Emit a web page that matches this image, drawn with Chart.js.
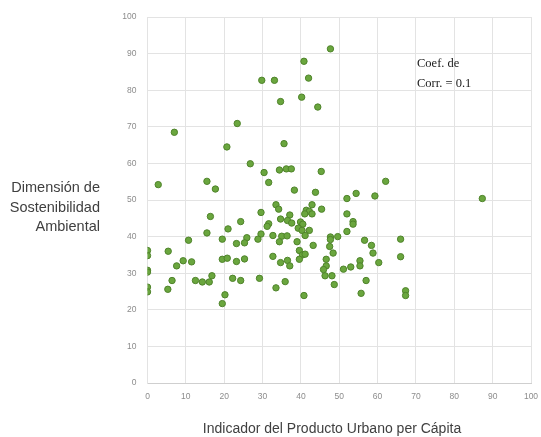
<!DOCTYPE html>
<html>
<head>
<meta charset="utf-8">
<script src="https://cdn.jsdelivr.net/npm/chart.js@4.4.1/dist/chart.umd.min.js"></script>
<style>
  html, body { margin: 0; padding: 0; background: #fff; }
  #wrap { width: 541px; height: 437px; }
</style>
</head>
<body>
<div id="wrap"><canvas id="scatter"></canvas></div>
<script>
// values
const urbanProduct = [
  47.7, 40.8, 29.8, 33.1, 42.0, 34.7, 40.2, 44.4, 23.4, 7.0, 20.7, 35.6,
  26.8, 30.4, 34.4, 36.2, 37.5, 45.3, 2.8, 15.5, 17.7, 31.6, 38.3, 43.8,
  62.1, 54.4, 52.0, 59.3, 87.3, 52.0, 53.6, 53.6, 52.0, 49.6, 56.6, 58.4,
  66.0, 48.4, 58.8, 66.0, 55.4, 55.4, 60.3, 53.0, 51.1, 48.1, 48.7, 57.0,
  55.7, 67.3, 67.3,
  33.5, 34.2, 29.6, 16.4, 41.4, 42.9, 45.4, 42.2, 41.0, 42.9, 37.1, 34.7,
  36.5, 37.6, 39.9, 40.5, 31.6, 31.2, 39.3, 40.3, 42.2, 24.3, 21.0, 15.5,
  29.6, 28.8, 32.7, 35.0, 36.4, 41.1, 34.4, 39.0, 43.2, 25.9, 25.3, 23.2,
  19.5, 10.7, 5.4, 0, 0, 9.3, 11.5, 7.6, 19.5, 20.8, 23.2, 25.3,
  32.7, 34.7, 36.5, 37.1, 39.6, 40.4, 41.1, 39.6, 47.7, 47.7, 47.5, 46.6,
  46.6, 45.9, 46.3, 0, 0, 6.4, 5.3, 0, 0, 12.5, 14.3, 16.1,
  16.8, 22.2, 24.3, 29.2, 33.5, 35.9, 40.8, 20.2, 19.5
];
const sustainability = [
  91.3, 87.9, 82.7, 82.7, 83.3, 76.9, 78.1, 75.4, 70.9, 68.5, 64.5, 65.4,
  59.9, 57.5, 58.2, 58.5, 58.5, 57.8, 54.2, 55.1, 53.0, 54.8, 52.7, 52.1,
  55.1, 51.8, 50.4, 51.1, 50.4, 46.2, 44.1, 43.4, 41.4, 40.0, 39.0, 37.6,
  39.3, 35.5, 35.5, 34.5, 33.4, 32.0, 32.9, 31.7, 31.1, 29.3, 26.9, 28.0,
  24.5, 25.2, 23.9,
  48.7, 47.5, 46.6, 45.5, 47.2, 48.7, 47.5, 46.9, 46.2, 46.2, 45.9, 44.8,
  44.4, 43.7, 44.0, 43.4, 43.5, 42.8, 42.3, 41.7, 41.7, 44.1, 42.1, 41.0,
  40.7, 39.3, 40.3, 40.1, 40.2, 40.3, 38.6, 38.6, 37.6, 39.7, 38.3, 38.1,
  39.3, 39.0, 36.0, 36.2, 34.8, 33.4, 33.1, 32.0, 33.8, 34.1, 33.2, 33.9,
  34.6, 32.9, 33.5, 32.0, 36.2, 35.0, 35.2, 33.8, 39.9, 39.2, 37.3, 33.8,
  32.0, 31.0, 29.3, 30.8, 30.3, 28.0, 25.6, 26.2, 24.9, 28.0, 27.6, 27.6,
  29.3, 28.6, 28.0, 28.6, 26.0, 27.7, 23.9, 24.1, 21.7
];
const xTicks = [0, 10, 20, 30, 40, 50, 60, 70, 80, 90, 100];
const yTicks = [0, 10, 20, 30, 40, 50, 60, 70, 80, 90, 100];
const yTitleLines = ['Dimensión de', 'Sostenibilidad', 'Ambiental'];
const xTitle = 'Indicador del Producto Urbano per Cápita';
const noteLines = ['Coef. de', 'Corr. = 0.1'];

const points = urbanProduct.map((x, i) => ({ x: x, y: sustainability[i] }));

// titles + correlation note drawn straight on the canvas
const textPlugin = {
  id: 'extraText',
  afterDraw(chart) {
    const ctx = chart.ctx;
    ctx.save();
    ctx.fillStyle = '#404040';
    ctx.font = '14.5px "Liberation Sans", Arial, sans-serif';
    ctx.textAlign = 'right';
    ctx.textBaseline = 'middle';
    yTitleLines.forEach((t, i) => ctx.fillText(t, 100, 188 + i * 19.5));

    ctx.font = '14px "Liberation Sans", Arial, sans-serif';
    ctx.textAlign = 'center';
    ctx.fillText(xTitle, 332, 429);

    ctx.fillStyle = '#1a1a1a';
    ctx.font = '12.5px "Liberation Serif", "Times New Roman", serif';
    ctx.textAlign = 'left';
    ctx.textBaseline = 'alphabetic';
    noteLines.forEach((t, i) => ctx.fillText(t, 417, 67 + i * 19.5));
    ctx.restore();
  }
};

new Chart(document.getElementById('scatter'), {
  type: 'scatter',
  data: {
    datasets: [{
      data: points,
      backgroundColor: '#6aa63e',
      borderColor: '#4f832b',
      borderWidth: 1,
      pointRadius: 3.2,
      pointHoverRadius: 3.2
    }]
  },
  options: {
    responsive: true,
    maintainAspectRatio: false,
    animation: false,
    layout: { padding: { top: 17, right: 10, left: 0, bottom: 0 } },
    plugins: {
      legend: { display: false },
      tooltip: { enabled: false }
    },
    scales: {
      x: {
        type: 'linear',
        min: 0,
        max: 100,
        afterBuildTicks: s => { s.ticks = xTicks.map(v => ({ value: v })); },
        afterFit: s => { s.height = 54; s.paddingRight = 0; s.paddingLeft = 0; },
        grid: { color: '#e3e3e3', lineWidth: 1, drawTicks: false },
        border: { color: '#cfcfcf' },
        ticks: { color: '#8c8c8c', font: { size: 8.5, family: 'Liberation Sans' }, padding: 9 }
      },
      y: {
        type: 'linear',
        min: 0,
        max: 100,
        afterBuildTicks: s => { s.ticks = yTicks.map(v => ({ value: v })); },
        afterFit: s => { s.width = 147.5; },
        grid: { color: '#e3e3e3', lineWidth: 1, drawTicks: false },
        border: { color: '#e3e3e3' },
        ticks: { color: '#8c8c8c', font: { size: 8.5, family: 'Liberation Sans' }, padding: 11 }
      }
    }
  },
  plugins: [textPlugin]
});
</script>
</body>
</html>
